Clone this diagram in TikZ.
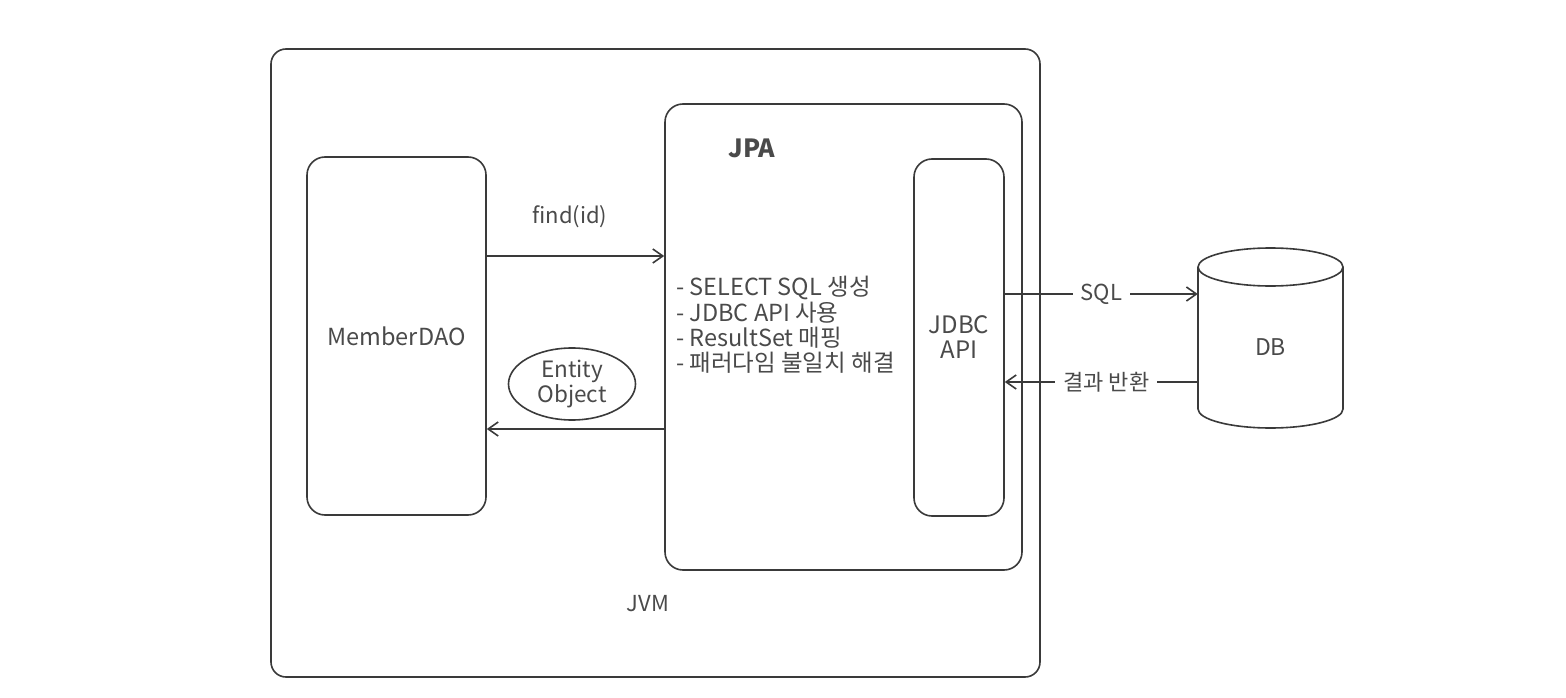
\documentclass[tikz,border=0pt]{standalone}
\usepackage{fontspec}
\setmainfont{Noto Sans CJK KR}
\usetikzlibrary{arrows.meta,shapes.geometric}
\definecolor{ln}{HTML}{3A3A3A}
\definecolor{tx}{HTML}{4A4A4A}
\begin{document}
\begin{tikzpicture}[x=1pt,y=-1pt,
  box/.style={draw=ln, line width=1.6pt, rounded corners=18pt, inner sep=0pt},
  lbl/.style={text=tx, font=\fontsize{22}{25}\selectfont},
  arr/.style={draw=ln, line width=1.6pt, -{Straight Barb[length=10pt,width=14pt,line width=1.6pt]}},
  plain/.style={draw=ln, line width=1.6pt},
  gap/.style={fill=white, inner xsep=8pt, inner ysep=2pt},
]
\useasboundingbox (0,0) rectangle (1566,698);
\fill[white] (0,0) rectangle (1566,698);
% containers
\node[box, rounded corners=15pt, minimum width=769pt, minimum height=628pt] (jvm) at (655.5,363) {};
\node[box, minimum width=357pt, minimum height=466pt] (jpa) at (843.5,337) {};
\node[box, lbl, align=center, font=\fontsize{24}{25}\selectfont, minimum width=90pt, minimum height=357pt] (jdbc) at (959,337.5) {JDBC\\API};
\node[box, lbl, font=\fontsize{23.5}{25}\selectfont, minimum width=179pt, minimum height=358pt] (dao) at (396.5,336) {MemberDAO};
% labels
\node[lbl] (jvmlabel) at (648,604) {JVM};
\node[text=tx, font=\fontsize{25}{28}\selectfont\bfseries] (jpalabel) at (752,148) {JPA};
\node[lbl, anchor=west, align=left, font=\fontsize{23.5}{25.3}\selectfont, inner sep=0pt] (jpalist) at (676,325)
  {- SELECT SQL 생성\\- JDBC API 사용\\- ResultSet 매핑\\- 패러다임 불일치 해결};
\node[lbl] (findlabel) at (570,217) {find(id)};
\node[ellipse, draw=ln, line width=1.6pt, lbl, align=center, font=\fontsize{22.5}{25}\selectfont,
  minimum width=127pt, minimum height=72pt, inner sep=0pt] (entity) at (572,384) {Entity\\Object};
% DB cylinder
\node[lbl, font=\fontsize{23}{25}\selectfont, minimum width=145pt, minimum height=160pt, inner sep=0pt] (db) at (1270.5,347) {DB};
\draw[plain] (1270.5,267) ellipse [x radius=72.5pt, y radius=19pt];
\draw[plain] (1198,267) -- (1198,409) arc[start angle=180, end angle=360, x radius=72.5pt, y radius=19pt] -- (1343,267);
% rows
\coordinate (r1) at (0,256);
\coordinate (r2) at (0,429);
\coordinate (r3) at (0,294);
\coordinate (r4) at (0,382);
% connectors
\draw[arr] (dao.east |- r1) -- (jpa.west |- r1);
\draw[arr] (jpa.west |- r2) -- (dao.east |- r2);
\draw[arr] (jdbc.east |- r3) -- node[lbl, gap] (sqllabel) {SQL} (db.west |- r3);
\draw[arr] (db.west |- r4) -- node[lbl, gap, xshift=5pt] (retlabel) {결과 반환} (jdbc.east |- r4);
\end{tikzpicture}
\end{document}
